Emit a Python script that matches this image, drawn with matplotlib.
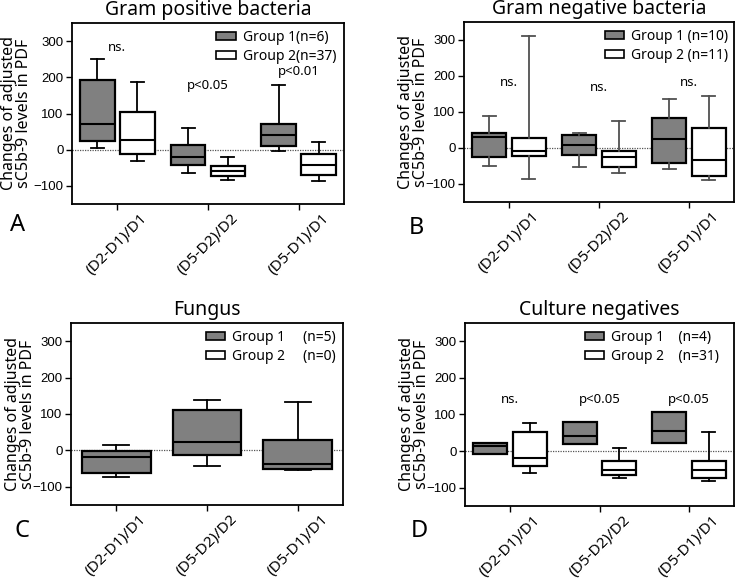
import matplotlib
matplotlib.use("Agg")
import matplotlib.pyplot as plt
from matplotlib.patches import Patch
from matplotlib.transforms import ScaledTranslation

categories = ["(D2-D1)/D1", "(D5-D2)/D2", "(D5-D1)/D1"]

# five-number summaries per category: [whisker low, Q1, median, Q3, whisker high]
gp_group1 = [[6, 24, 70, 192, 251], [-64, -42, -21, 14, 60], [-3, 9, 41, 71, 180]]
gp_group2 = [[-32, -13, 28, 103, 186], [-85, -74, -59, -45, -19], [-87, -69, -41, -12, 21]]
gn_group1 = [[-49, -26, 31, 41, 88], [-52, -20, 9, 35, 41], [-57, -41, 24, 84, 135]]
gn_group2 = [[-86, -23, -8, 28, 310], [-70, -52, -26, -7, 75], [-88, -78, -34, 55, 145]]
fu_group1 = [[-72, -62, -18, -1, 14], [-44, -13, 23, 111, 139], [-53, -51, -38, 28, 132]]
cn_group1 = [[-8, -8, 13, 23, 23], [20, 20, 41, 80, 80], [23, 23, 54, 107, 107]]
cn_group2 = [[-59, -42, -18, 51, 78], [-73, -64, -53, -26, 8], [-82, -73, -51, -26, 52]]

gp_labels = ["Group 1(n=6)", "Group 2(n=37)"]
gn_labels = ["Group 1 (n=10)", "Group 2 (n=11)"]
fu_labels = ["Group 1     (n=5)", "Group 2     (n=0)"]
cn_labels = ["Group 1    (n=4)", "Group 2    (n=31)"]

gp_sig = ["ns.", "p<0.05", "p<0.01"]
gp_sig_y = [283, 176, 215]
gn_sig = ["ns.", "ns.", "ns."]
gn_sig_y = [181, 167, 181]
cn_sig = ["ns.", "p<0.05", "p<0.05"]
cn_sig_y = [140, 140, 140]

yticks = [-100, 0, 100, 200, 300]
GRAY = "#808080"
W, H = 737, 580

plt.rcParams["font.family"] = ["Noto Sans", "DejaVu Sans"]


def stats(rows):
    return [dict(whislo=r[0], q1=r[1], med=r[2], q3=r[3], whishi=r[4], fliers=[]) for r in rows]


def panel(box, title, letter, letter_xy, label_x, leg_x, groups, labels,
          sig=None, sig_y=None, single=False, whisk="black"):
    x0, y0, x1, y1 = box  # pixel box, top-left origin
    ax = fig.add_axes([x0 / W, 1 - y1 / H, (x1 - x0) / W, (y1 - y0) / H])
    ax.axhline(0, color="#555555", lw=0.9, ls=(0, (1, 1)), zorder=1)
    if single:
        offsets, width = [0.0], 0.76
    else:
        offsets, width = [-0.22, 0.22], 0.38
    colors = [GRAY, "white"]
    for g, (rows, off) in enumerate(zip(groups, offsets)):
        pos = [i + off for i in range(len(categories))]
        ax.bxp(stats(rows), positions=pos, widths=width, patch_artist=True,
               showfliers=False, manage_ticks=False,
               boxprops=dict(facecolor=colors[g], edgecolor="black", lw=1.6),
               medianprops=dict(color="black", lw=1.5),
               whiskerprops=dict(color=whisk, lw=1.3),
               capprops=dict(color=whisk, lw=1.3),
               capwidths=width * 0.38, zorder=2)
    ax.set_xlim(-0.5, 2.5)
    ax.set_ylim(-150, 350)
    ax.set_yticks(yticks)
    ax.set_yticklabels([str(t).replace("-", "\u2212") for t in yticks],
                       fontsize=9.5, family=["Liberation Sans", "DejaVu Sans"])
    ax.set_xticks(range(len(categories)))
    ax.set_xticklabels(categories, rotation=45, ha="center", fontsize=11)
    shift = ScaledTranslation(-8 / 100, 0, fig.dpi_scale_trans)
    for lab in ax.get_xticklabels():
        lab.set_transform(lab.get_transform() + shift)
    ax.tick_params(axis="both", direction="out", length=4, width=1)
    ax.tick_params(axis="y", pad=2)
    ax.tick_params(axis="x", pad=1)
    for s in ax.spines.values():
        s.set_linewidth(1.3)
    ax.set_title(title, fontsize=14, pad=6)
    ax.set_ylabel("Changes of adjusted\nsC5b-9 levels in PDF", fontsize=11.5,
                  linespacing=0.92)
    ax.yaxis.set_label_coords((label_x - x0) / (x1 - x0), 0.5)
    if sig is not None:
        for i, (s, y) in enumerate(zip(sig, sig_y)):
            ax.text(i, y, s, ha="center", va="center", fontsize=9.5)
    handles = [Patch(facecolor=GRAY, edgecolor="black", lw=1.2),
               Patch(facecolor="white", edgecolor="black", lw=1.2)]
    ax.legend(handles, labels, loc="upper right",
              bbox_to_anchor=((leg_x - x0) / (x1 - x0), 1.0),
              frameon=False, fontsize=10,
              handlelength=1.4, handleheight=0.5, handletextpad=0.5,
              labelspacing=0.3, borderaxespad=0.3, borderpad=0.2)
    fig.text(letter_xy[0] / W, 1 - letter_xy[1] / H, letter, fontsize=17,
             ha="left", va="top")
    return ax


fig = plt.figure(figsize=(7.37, 5.8), dpi=100)

panel((72, 23, 344, 204), "Gram positive bacteria", "A", (10, 213), 32, 343,
      [gp_group1, gp_group2], gp_labels, gp_sig, gp_sig_y)
panel((464, 22, 734, 202), "Gram negative bacteria", "B", (409, 216), 429, 735,
      [gn_group1, gn_group2], gn_labels, gn_sig, gn_sig_y, whisk="#505050")
panel((71, 323, 343, 505), "Fungus", "C", (15, 519), 36, 343,
      [fu_group1], fu_labels, single=True)
panel((465, 323, 734, 506), "Culture negatives", "D", (411, 519), 430, 726,
      [cn_group1, cn_group2], cn_labels, cn_sig, cn_sig_y)

fig.savefig("out.png", dpi=100)
